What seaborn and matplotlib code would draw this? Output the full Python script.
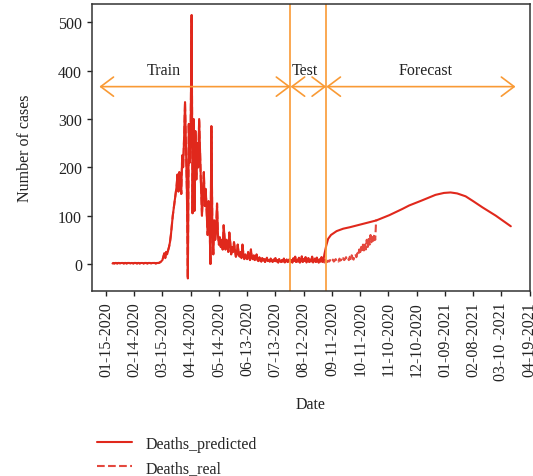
import numpy as np
import pandas as pd
import matplotlib
matplotlib.use('Agg')
import matplotlib.pyplot as plt
import matplotlib.dates as mdates
import seaborn as sns

sns.set_style('white')
plt.rcParams['font.family'] = ['Liberation Serif', 'DejaVu Serif']
plt.rcParams['font.size'] = 11.5

# daily real deaths, starting 2020-01-22
deaths_real = [
    1, 2, 1, 2, 2, 1, 2, 2, 1, 2, 2, 2, 1, 2, 2, 1, 2, 2, 2, 1,
    2, 2, 1, 2, 2, 2, 1, 2, 2, 1, 2, 2, 2, 1, 2, 2, 2, 1, 2, 2,
    2, 1, 2, 2, 2, 2, 1, 2, 2, 2,
    3, 4, 6, 8, 15, 22, 12, 25,
    20, 28, 35, 45, 60, 80, 100, 115, 130, 145, 160, 185,
    150, 190, 170, 145, 225, 200, 260, 335, 240, 150,
    -30, 290, 210, 280, 515, 105, 300, 110, 275, 175,
    250, 200, 300, 230, 160, 100, 150, 190, 120, 155,
    110, 60, 130, 90, 0, 285, 80, 20, 90, 50,
    70, 125, 60, 40, 55, 35, 50, 30, 80, 55,
    30, 50, 40, 25, 65, 45, 20, 35, 25, 45,
    30, 15, 20, 40, 20, 15, 25, 12, 40, 20,
    10, 20, 15, 10, 25, 15, 8, 30, 12, 10,
    18, 8, 12, 20, 8, 6, 14, 9, 5, 12,
    7, 10, 4, 9, 13, 6, 8, 5, 11, 7,
    4, 9, 6, 12, 5, 8, 3, 10, 6, 4,
    8, 5, 11, 3, 7, 9, 4, 6, 10, 5,
    8, 3, 12, 6, 15, 4, 9, 5, 13, 3,
    7, 16, 4, 10, 6, 14, 3, 8, 12, 4,
    9, 5, 15, 3, 7, 11, 4, 13, 6, 3,
    10, 5, 14, 4, 8, 3, 12, 6, 4, 7,
    5, 8, 4, 6, 9, 5, 7, 10, 6, 8,
    5, 11, 7, 9, 6, 12, 8, 10, 14, 9,
    12, 8, 15, 10, 18, 12, 9, 16, 20, 14,
    22, 18, 30, 20, 35, 25, 40, 28, 45, 30,
    50, 35, 55, 40, 60, 45, 58, 48, 62, 50, 92,
]
real_start = '2020-01-22'

# model forecast after the fitted period
forecast_dates = ['2020-09-03', '2020-09-05', '2020-09-07', '2020-09-10', '2020-09-16',
                  '2020-09-23', '2020-09-30', '2020-10-10', '2020-10-20', '2020-10-28',
                  '2020-11-11', '2020-11-25', '2020-12-02', '2020-12-15', '2020-12-30',
                  '2021-01-08', '2021-01-15', '2021-01-22', '2021-01-31', '2021-02-08',
                  '2021-02-18', '2021-03-04', '2021-03-12', '2021-03-20']
forecast_values = [20, 38, 52, 60, 68, 73, 76, 81, 86, 90,
                   101, 114, 121, 131, 143, 147, 148, 146, 140, 130,
                   117, 100, 89, 78]
fit_end = '2020-09-02'

tick_labels = ['01-15-2020', '02-14-2020', '03-15-2020', '04-14-2020', '05-14-2020',
               '06-13-2020', '07-13-2020', '08-12-2020', '09-11-2020', '10-11-2020',
               '11-10-2020', '12-10-2020', '01-09-2021', '02-08-2021', '03-10 -2021',
               '04-19-2021']

test_start = '2020-07-29'
test_end = '2020-09-05'

red = '#e0281c'
orange = '#f99a35'

real_df = pd.DataFrame({'date': pd.date_range(real_start, periods=len(deaths_real)),
                        'deaths': deaths_real})
fitted = real_df[real_df['date'] <= fit_end]
pred_df = pd.concat([fitted,
                     pd.DataFrame({'date': pd.to_datetime(forecast_dates),
                                   'deaths': forecast_values})], ignore_index=True)

fig = plt.figure(figsize=(5.33, 4.77), dpi=100)
ax = fig.add_axes([0.1726, 0.3878, 0.8218, 0.6017])

sns.lineplot(data=pred_df, x='date', y='deaths', color=red, lw=1.5, ax=ax,
             label='Deaths_predicted', legend=False)
sns.lineplot(data=real_df, x='date', y='deaths', color=red, lw=1.5, ls='--', ax=ax,
             label='Deaths_real', legend=False, alpha=0.85)

ax.axvline(pd.Timestamp(test_start), color=orange, lw=1.2)
ax.axvline(pd.Timestamp(test_end), color=orange, lw=1.2)

arrow_y = 367
spans = [('2020-01-08', test_start), (test_start, test_end), (test_end, '2021-03-25')]
for a, b in spans:
    ax.annotate('', xy=(mdates.date2num(pd.Timestamp(b)), arrow_y),
                xytext=(mdates.date2num(pd.Timestamp(a)), arrow_y),
                arrowprops=dict(arrowstyle='<->,head_length=0.8,head_width=0.6',
                                color=orange, lw=1.2, shrinkA=0, shrinkB=0))
for txt, d in [('Train', '2020-03-16'), ('Test', '2020-08-13'), ('Forecast', '2020-12-19')]:
    ax.text(mdates.date2num(pd.Timestamp(d)), 401, txt, ha='center', va='center', color='#222222')

base = pd.Timestamp('2020-01-15')
ax.set_xlim(base - pd.Timedelta(days=14.8), base + pd.Timedelta(days=450.4))
ax.set_ylim(-56, 538)
ax.set_xticks([base + pd.Timedelta(days=30 * k) for k in range(len(tick_labels))])
ax.set_xticklabels(tick_labels, rotation=90)
ax.set_yticks([0, 100, 200, 300, 400, 500])

ax.set_xlabel('Date', labelpad=12, color='#222222')
ax.set_ylabel('Number of cases', labelpad=18, color='#222222')
ax.tick_params(direction='out', length=3.6, width=1, colors='#222222', pad=3.5,
               bottom=True, left=True)
for s in ax.spines.values():
    s.set_color('#333333')
    s.set_linewidth(1.1)

handles, labels = ax.get_legend_handles_labels()
fig.legend(handles, labels, loc='upper left', bbox_to_anchor=(0.182, 0.084),
           frameon=False, borderpad=0, borderaxespad=0, handlelength=2.2,
           handletextpad=0.85, labelspacing=0.5)

fig.savefig('out.png', dpi=100)
